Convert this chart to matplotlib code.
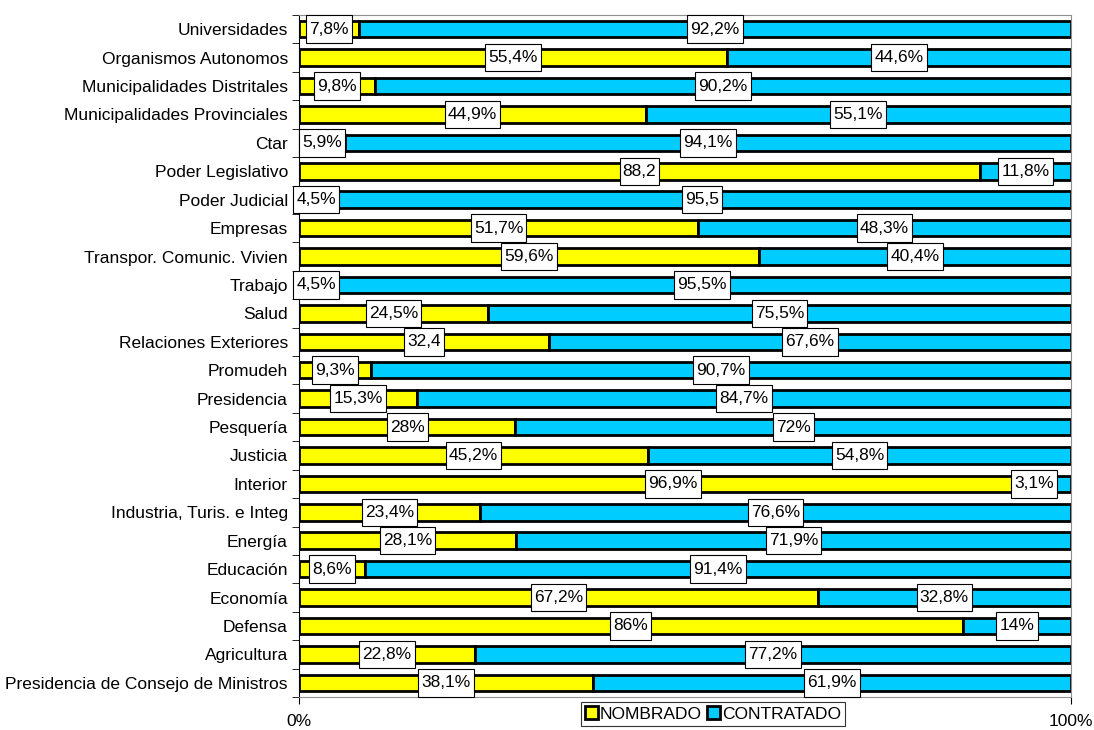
import matplotlib
matplotlib.use("Agg")
import matplotlib.pyplot as plt
from matplotlib.path import Path
import numpy as np

plt.rcParams['font.family'] = ['Liberation Sans', 'DejaVu Sans']

categories = [
    "Universidades", "Organismos Autonomos", "Municipalidades Distritales",
    "Municipalidades Provinciales", "Ctar", "Poder Legislativo", "Poder Judicial",
    "Empresas", "Transpor. Comunic. Vivien", "Trabajo", "Salud",
    "Relaciones Exteriores", "Promudeh", "Presidencia", "Pesquería", "Justicia",
    "Interior", "Industria, Turis. e Integ", "Energía", "Educación", "Economía",
    "Defensa", "Agricultura", "Presidencia de Consejo de Ministros",
]
nombrado = [7.8, 55.4, 9.8, 44.9, 5.9, 88.2, 4.5, 51.7, 59.6, 4.5, 24.5, 32.4,
            9.3, 15.3, 28, 45.2, 96.9, 23.4, 28.1, 8.6, 67.2, 86, 22.8, 38.1]
contratado = [92.2, 44.6, 90.2, 55.1, 94.1, 11.8, 95.5, 48.3, 40.4, 95.5, 75.5, 67.6,
              90.7, 84.7, 72, 54.8, 3.1, 76.6, 71.9, 91.4, 32.8, 14, 77.2, 61.9]
nombrado_labels = ["7,8%", "55,4%", "9,8%", "44,9%", "5,9%", "88,2", "4,5%", "51,7%",
                   "59,6%", "4,5%", "24,5%", "32,4", "9,3%", "15,3%", "28%", "45,2%",
                   "96,9%", "23,4%", "28,1%", "8,6%", "67,2%", "86%", "22,8%", "38,1%"]
contratado_labels = ["92,2%", "44,6%", "90,2%", "55,1%", "94,1%", "11,8%", "95,5", "48,3%",
                     "40,4%", "95,5%", "75,5%", "67,6%", "90,7%", "84,7%", "72%", "54,8%",
                     "3,1%", "76,6%", "71,9%", "91,4%", "32,8%", "14%", "77,2%", "61,9%"]

YELLOW = "#FFFF00"
CYAN = "#00CCFF"
FS = 12.5


def label_box(x0, y0, width, height, mutation_size):
    px = 0.18 * mutation_size
    py = 0.36 * mutation_size
    x0, x1 = x0 - px, x0 + width + px
    y0, y1 = y0 - py, y0 + height + py
    return Path([(x0, y0), (x1, y0), (x1, y1), (x0, y1), (x0, y0)], closed=True)


fig = plt.figure(figsize=(10.94, 7.30), dpi=100)
ax = fig.add_axes([299/1094, 1-697/730, (1071-299)/1094, (697-15)/730])

n = len(categories)
y = np.arange(n)
nb = np.array(nombrado)
ct = np.array(contratado)

ax.barh(y, nb, height=0.58, color=YELLOW, edgecolor="black", linewidth=2,
        label="NOMBRADO", zorder=2)
ax.barh(y, ct, left=nb, height=0.58, color=CYAN, edgecolor="black", linewidth=2,
        label="CONTRATADO", zorder=2)

bbox = dict(boxstyle=label_box, fc="white", ec="black", lw=0.8)
for i in range(n):
    ax.text(nb[i] / 2, y[i], nombrado_labels[i], ha="center", va="center",
            fontsize=FS, bbox=bbox, zorder=5, clip_on=False)
    cx = min(nb[i] + ct[i] / 2, 95.2)
    ax.text(cx, y[i], contratado_labels[i], ha="center", va="center",
            fontsize=FS, bbox=bbox, zorder=5, clip_on=False)

ax.set_xlim(0, 100)
ax.set_ylim(n - 0.5, -0.5)
ax.set_yticks(y)
ax.set_yticklabels(categories, fontsize=FS)
ax.tick_params(axis="y", length=0, pad=8)
ax.set_yticks(np.arange(n + 1) - 0.5, minor=True)
ax.tick_params(axis="y", which="minor", length=5, direction="out", color="black")
ax.set_xticks([0, 100])
ax.set_xticklabels(["0%", "100%"], fontsize=FS)
ax.tick_params(axis="x", length=5, pad=7)

for s in ["top", "right", "bottom"]:
    ax.spines[s].set_color("#909090")
ax.spines["left"].set_color("black")

leg = fig.legend(loc="center", bbox_to_anchor=(713/1094, 1-714/730), ncol=2,
                 fontsize=FS, frameon=True, fancybox=False, edgecolor="black",
                 handlelength=0.75, handleheight=0.75, handletextpad=0.1,
                 columnspacing=0.3, borderpad=0.25, borderaxespad=0)
leg.get_frame().set_linewidth(0.8)

fig.savefig("out.png", dpi=100)
